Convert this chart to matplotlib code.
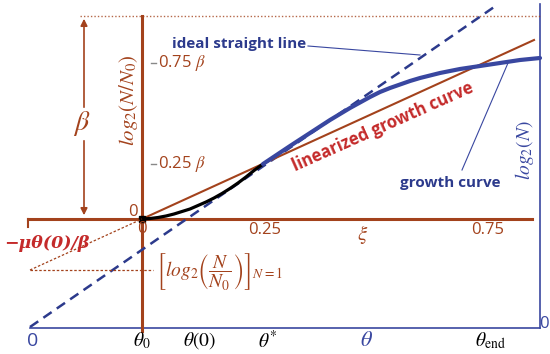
import numpy as np
import matplotlib
matplotlib.use("Agg")
import matplotlib.pyplot as plt

plt.rcParams['font.family'] = ['Open Sans', 'DejaVu Sans']
plt.rcParams['mathtext.fontset'] = 'stix'

# diagram coordinates (x to the right, y downward, same scale as the picture)
BROWN = '#a3421c'
RED = '#c42a2a'
BLUE = '#3947a0'
DBLUE = '#2c3a8c'

# ideal straight line (dashed), from theta=0 to top
ideal_x = [30, 497]
ideal_y = [327, 5]
# linearized growth curve
lin_x = [142, 534]
lin_y = [219, 40]
# growth curve, lag part (black) and main part (blue)
lag_x = [142, 150, 158, 166, 174, 182, 190, 198, 206, 214, 222, 230, 238, 246, 254, 263]
lag_y = [219, 218.5, 217.5, 216, 214, 211.5, 209, 205.5, 202, 198, 193.5, 188.5, 183, 177, 170.5, 164]
grow_x = [263, 272, 281, 290, 300, 310, 320, 330, 340, 350, 360, 370, 380, 390, 400,
          410, 420, 430, 440, 450, 460, 470, 480, 490, 500, 510, 520, 530, 540]
grow_y = [164, 158, 152, 146, 139.5, 133, 126.5, 120, 114, 108, 102.5, 97, 92, 88, 84.5,
          81, 78, 75.5, 73, 71, 69, 67.5, 66, 64.5, 63, 61.5, 60, 59, 58]

# axis frames
theta_axis_y = 328
theta_axis_x = [30, 540]
logN_axis_x = 540
xi_axis_y = 219
xi_axis_x = [28, 532]
lognn0_axis_x = 142
top_level_y = 16
beta_tick_y = [63, 164]
beta_tick_labels = ['0.75 $\\beta$', '0.25 $\\beta$']
xi_tick_x = [265, 488]
xi_tick_labels = ['0.25', '0.75']
theta_tick_x = [33, 142, 200, 268, 366, 490]
theta_tick_labels = ['0', '$\\theta_0$', '$\\theta(0)$', '$\\theta^{*}$', '$\\theta$', '$\\theta_{\\rm end}$']

fig = plt.figure(figsize=(5.5, 3.54), dpi=100)
ax = fig.add_axes([0, 0, 1, 1])
ax.set_xlim(0, 550)
ax.set_ylim(354, 0)
ax.axis('off')

# blue theta / log2(N) frame
ax.plot(theta_axis_x, [theta_axis_y, theta_axis_y], color=BLUE, lw=1.2)
ax.plot([logN_axis_x, logN_axis_x], [4, theta_axis_y], color=BLUE, lw=1.2)
# brown xi / log2(N/N0) frame
ax.plot(xi_axis_x, [xi_axis_y, xi_axis_y], color=BROWN, lw=2.2)
ax.plot([xi_axis_x[0], xi_axis_x[0]], [xi_axis_y, 227], color=BROWN, lw=1.5)
ax.plot([lognn0_axis_x, lognn0_axis_x], [top_level_y, 331], color=BROWN, lw=2.2)
ax.plot([80, 540], [top_level_y, top_level_y], color=BROWN, lw=1, ls=(0, (1, 1.5)), alpha=0.8)

# beta ticks on log2(N/N0) axis
for y, lab in zip(beta_tick_y, beta_tick_labels):
    ax.plot([151, 156], [y, y], color='#888888', lw=1)
    ax.text(158, y, lab, color=BROWN, fontsize=12, va='center', ha='left')
ax.text(133, 212, '0', color=BROWN, fontsize=12, ha='center', va='center')
ax.text(142, 229, '0', color=BROWN, fontsize=12, ha='center', va='center')
for x, lab in zip(xi_tick_x, xi_tick_labels):
    ax.text(x, 230, lab, color=BROWN, fontsize=12, ha='center', va='center')
ax.text(363, 235, '$\\xi$', color=BROWN, fontsize=15, ha='center', va='center')

for x, lab in zip(theta_tick_x, theta_tick_labels):
    c = BLUE if lab in ('0', '$\\theta$') else 'black'
    fs = 16 if lab == '$\\theta$' else 14
    ax.text(x, 341, lab, color=c, fontsize=fs, ha='center', va='center')
ax.text(544, 324, '0', color=BLUE, fontsize=12, ha='center', va='center')

# beta double arrow
ax.annotate('', xy=(84, top_level_y), xytext=(84, 110),
            arrowprops=dict(arrowstyle='-|>', color=BROWN, lw=1.2, mutation_scale=10))
ax.annotate('', xy=(84, xi_axis_y - 1), xytext=(84, 138),
            arrowprops=dict(arrowstyle='-|>', color=BROWN, lw=1.2, mutation_scale=10))
ax.text(82, 123, '$\\beta$', color=BROWN, fontsize=20, ha='center', va='center')

# lines and curves
ax.plot(ideal_x, ideal_y, color=DBLUE, lw=1.8, ls=(0, (4, 2.5)))
ax.plot(lin_x, lin_y, color=BROWN, lw=1.5)
ax.plot(lag_x, lag_y, color='black', lw=2.3, solid_capstyle='round', solid_joinstyle='round')
ax.plot(grow_x, grow_y, color=BLUE, lw=3, solid_capstyle='round', solid_joinstyle='round')
ax.plot([lognn0_axis_x], [xi_axis_y], marker='s', ms=4, color='black')

# -mu theta(0)/beta construction
ax.plot([30, 142], [270, 219], color=BROWN, lw=0.9, ls=(0, (2, 1.5)))
ax.plot([30, 153], [270, 270], color=BROWN, lw=0.9, ls=(0, (2, 1.5)))
ax.text(4, 243, '\u2212\u03bc\u03b8(0)/\u03b2', color=RED, fontsize=12.5,
        family='DejaVu Serif', fontweight='bold', fontstyle='italic',
        ha='left', va='center')
ax.text(156, 271, '$\\left[log_2\\left(\\dfrac{N}{N_0}\\right)\\right]_{N=1}$',
        color=BROWN, fontsize=14, ha='left', va='center')

# axis titles
ax.text(128, 100, '$log_2(N/N_0)$', color=BROWN, fontsize=15, rotation=90,
        ha='center', va='center')
ax.text(525, 150, '$log_2(N)$', color=BLUE, fontsize=14, rotation=90,
        ha='center', va='center')

# annotations
ax.text(172, 44, 'ideal straight line', color=DBLUE, fontsize=11,
        fontweight='bold', ha='left', va='center')
ax.plot([308, 420], [46, 55], color=BLUE, lw=0.8)
ax.text(400, 183, 'growth curve', color=DBLUE, fontsize=11,
        fontweight='bold', ha='left', va='center')
ax.plot([462, 508], [170, 63], color=BLUE, lw=0.8)
ax.text(383, 127, 'linearized growth curve', color=RED, fontsize=12,
        fontweight='bold', rotation=24, ha='center', va='center',
        rotation_mode='anchor')

fig.savefig('out.png', dpi=100)
